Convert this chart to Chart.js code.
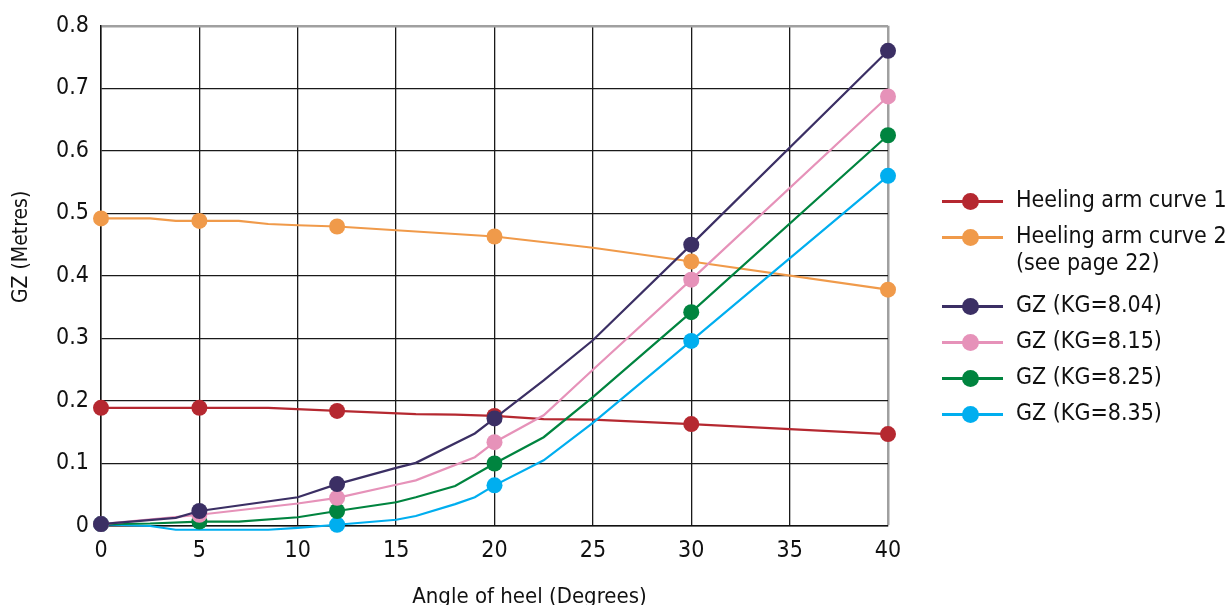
<!DOCTYPE html>
<html>
<head>
<meta charset="utf-8">
<script src="https://cdn.jsdelivr.net/npm/chart.js@4.4.1/dist/chart.umd.min.js"></script>
<style>
  html, body { margin: 0; padding: 0; background: #fff; }
  #wrap { position: relative; width: 1230px; height: 605px; }
  #legend { position: absolute; left: 942px; top: 186px; font-family: "Liberation Sans Narrow", "DejaVu Sans Condensed", Roboto, sans-serif; font-size: 23px; color: #111; }
  .item { display: flex; align-items: flex-start; margin-bottom: 6px; }
  .item.gap { margin-bottom: 15px; }
  .swatch { position: relative; width: 61px; height: 30px; flex: none; margin-right: 13px; }
  .swatch .ln { position: absolute; left: 0; right: 0; top: 14px; height: 3px; }
  .swatch .dot { position: absolute; left: 20px; top: 7px; width: 17px; height: 17px; border-radius: 50%; }
  .txt { line-height: 27px; }
</style>
</head>
<body>
<div id="wrap">
  <canvas id="stabilityChart" width="1230" height="605"></canvas>
  <div id="legend"></div>
</div>
<script>
// Angles (deg) where the original plot has a marker
const markedAngles = [0, 5, 12, 20, 30, 40];
const xTicks = [0, 5, 10, 15, 20, 25, 30, 35, 40];
const yTicks = [0, 0.1, 0.2, 0.3, 0.4, 0.5, 0.6, 0.7, 0.8];
const yTickLabels = ['0', '0.1', '0.2', '0.3', '0.4', '0.5', '0.6', '0.7', '0.8'];
const xTitle = 'Angle of heel (Degrees)';
const yTitle = 'GZ (Metres)';

// Heeling arm curve 1
const heel1Angles = [0, 5, 8.5, 12, 16, 18, 20, 22.5, 25, 30, 40];
const heel1Values = [0.189, 0.189, 0.189, 0.184, 0.179, 0.178, 0.176, 0.171, 0.170, 0.163, 0.147];

// Heeling arm curve 2
const heel2Angles = [0, 2.5, 3.8, 5, 7, 8.5, 10, 12, 20, 25, 30, 40];
const heel2Values = [0.492, 0.492, 0.488, 0.488, 0.488, 0.483, 0.481, 0.479, 0.463, 0.445, 0.423, 0.378];

// GZ curves
const gz804Angles = [0, 3.8, 5, 10, 12, 15, 16, 19, 20, 22.5, 25, 30, 40];
const gz804Values = [0.003, 0.013, 0.024, 0.046, 0.067, 0.093, 0.101, 0.148, 0.172, 0.233, 0.297, 0.450, 0.760];

const gz815Angles = [0, 5, 10, 12, 15, 16, 19, 20, 22.5, 25, 30, 40];
const gz815Values = [0.003, 0.018, 0.036, 0.045, 0.066, 0.073, 0.110, 0.134, 0.177, 0.250, 0.394, 0.687];

const gz825Angles = [0, 2.5, 5, 7, 10, 12, 15, 16, 18, 20, 22.5, 25, 30, 40];
const gz825Values = [0.003, 0.004, 0.007, 0.007, 0.014, 0.024, 0.038, 0.046, 0.064, 0.100, 0.142, 0.206, 0.342, 0.625];

const gz835Angles = [0, 2.5, 3.8, 8.5, 10, 12, 15, 16, 18, 19, 20, 22.5, 25, 30, 40];
const gz835Values = [0.003, 0.000, -0.006, -0.006, -0.003, 0.002, 0.010, 0.016, 0.035, 0.046, 0.065, 0.105, 0.165, 0.296, 0.560];

const seriesLabels = ['Heeling arm curve 1', 'Heeling arm curve 2\n(see page 22)', 'GZ (KG=8.04)', 'GZ (KG=8.15)', 'GZ (KG=8.25)', 'GZ (KG=8.35)'];
const seriesColors = ['#b52830', '#f09a4a', '#3b2f64', '#e692b9', '#00843f', '#00aeef'];

const FONT = '"Liberation Sans Narrow", "DejaVu Sans Condensed", Roboto, sans-serif';

function makeDataset(label, color, angles, values) {
    return {
        label: label,
        data: angles.map((a, i) => ({ x: a, y: values[i] })),
        borderColor: color,
        backgroundColor: color,
        borderWidth: 2.2,
        pointRadius: angles.map(a => markedAngles.includes(a) ? 8 : 0),
        pointHoverRadius: angles.map(a => markedAngles.includes(a) ? 8 : 0),
        pointBorderWidth: 0,
        tension: 0,
        clip: false
    };
}

const datasets = [
    makeDataset(seriesLabels[2], seriesColors[2], gz804Angles, gz804Values),
    makeDataset(seriesLabels[3], seriesColors[3], gz815Angles, gz815Values),
    makeDataset(seriesLabels[4], seriesColors[4], gz825Angles, gz825Values),
    makeDataset(seriesLabels[5], seriesColors[5], gz835Angles, gz835Values),
    makeDataset(seriesLabels[0], seriesColors[0], heel1Angles, heel1Values),
    makeDataset(seriesLabels[1], seriesColors[1], heel2Angles, heel2Values)
];

// axis titles sit a little off-centre in the original, so draw them here
const axisTitles = {
    id: 'axisTitles',
    afterDraw(chart) {
        const c = chart.ctx;
        const area = chart.chartArea;
        c.save();
        c.fillStyle = '#111';
        c.textAlign = 'center';
        c.font = '22px ' + FONT;
        c.textBaseline = 'top';
        c.fillText(xTitle, (area.left + area.right) / 2 + 35, 586);
        c.translate(22, area.top + (area.bottom - area.top) * 0.442);
        c.rotate(-Math.PI / 2);
        c.textBaseline = 'middle';
        c.font = '21px ' + FONT;
        c.fillText(yTitle, 0, 0);
        c.restore();
    }
};

const ctx = document.getElementById('stabilityChart').getContext('2d');
const chart = new Chart(ctx, {
    type: 'line',
    data: { datasets: datasets },
    plugins: [axisTitles],
    options: {
        responsive: false,
        animation: false,
        layout: { padding: { top: 25, right: 342, left: 0, bottom: 0 } },
        plugins: {
            legend: { display: false },
            tooltip: { enabled: false }
        },
        scales: {
            x: {
                type: 'linear',
                min: 0,
                max: 40,
                afterBuildTicks: axis => { axis.ticks = xTicks.map(v => ({ value: v })); },
                afterFit: axis => { axis.height = 79; },
                grid: {
                    drawTicks: false,
                    color: c => c.tick && c.tick.value === 40 ? '#a0a0a0' : '#1a1a1a',
                    lineWidth: c => c.tick && c.tick.value === 40 ? 2.5 : 1.3
                },
                border: { color: '#111', width: 1.5 },
                ticks: { color: '#111', padding: 11, font: { family: FONT, size: 23 } }
            },
            y: {
                min: 0,
                max: 0.8,
                afterBuildTicks: axis => { axis.ticks = yTicks.map(v => ({ value: v })); },
                afterFit: axis => { axis.width = 101; },
                grid: {
                    drawTicks: false,
                    color: c => c.tick && c.tick.value === 0.8 ? '#a0a0a0' : '#1a1a1a',
                    lineWidth: c => c.tick && c.tick.value === 0.8 ? 2.5 : 1.3
                },
                border: { color: '#111', width: 1.5 },
                ticks: {
                    color: '#111',
                    padding: 12,
                    font: { family: FONT, size: 23 },
                    callback: (v, i) => yTickLabels[i]
                }
            }
        }
    }
});

// HTML legend in the original order
const legendOrder = [0, 1, 2, 3, 4, 5];
const legendEl = document.getElementById('legend');
legendOrder.forEach(i => {
    const item = document.createElement('div');
    item.className = 'item' + (i === 1 ? ' gap' : '');
    item.innerHTML = '<div class="swatch"><div class="ln" style="background:' + seriesColors[i] + '"></div>' +
        '<div class="dot" style="background:' + seriesColors[i] + '"></div></div>' +
        '<div class="txt">' + seriesLabels[i].replace('\n', '<br>') + '</div>';
    legendEl.appendChild(item);
});
</script>
</body>
</html>
